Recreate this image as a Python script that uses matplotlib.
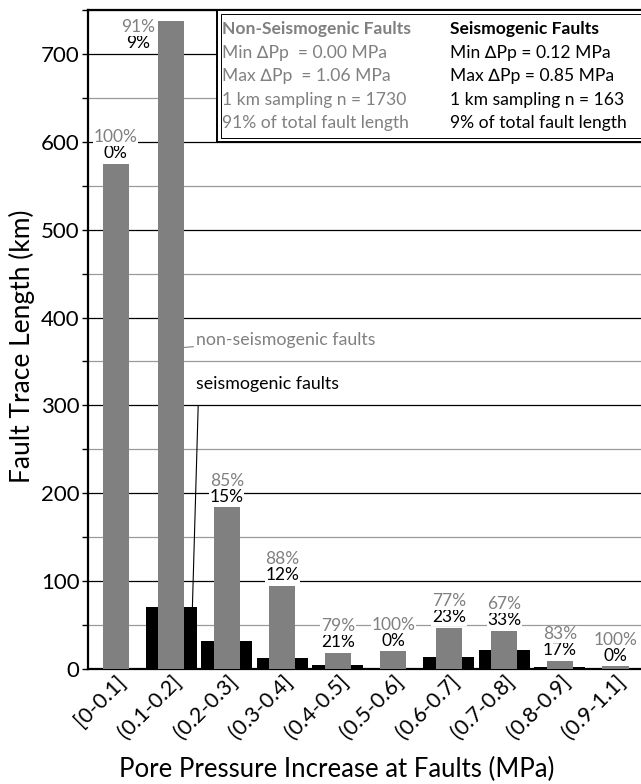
import matplotlib.pyplot as plt
from matplotlib.patches import Rectangle
from matplotlib.ticker import MultipleLocator
import numpy as np

plt.rcParams['font.family'] = ['Lato', 'DejaVu Sans']

bins = ['[0-0.1]', '(0.1-0.2]', '(0.2-0.3]', '(0.3-0.4]', '(0.4-0.5]',
        '(0.5-0.6]', '(0.6-0.7]', '(0.7-0.8]', '(0.8-0.9]', '(0.9-1.1]']
non_seis = [575, 737, 184, 95, 18, 20, 47, 43, 9, 3]  # km
seis = [0, 70, 32, 13, 5, 0, 14, 22, 2, 0]  # km
pct_non = ['100%', '91%', '85%', '88%', '79%', '100%', '77%', '67%', '83%', '100%']
pct_seis = ['0%', '9%', '15%', '12%', '21%', '0%', '23%', '33%', '17%', '0%']

table_non = ['Non-Seismogenic Faults', 'Min \u2206Pp  = 0.00 MPa', 'Max \u2206Pp  = 1.06 MPa',
             '1 km sampling n = 1730', '91% of total fault length']
table_seis = ['Seismogenic Faults', 'Min \u2206Pp = 0.12 MPa', 'Max \u2206Pp = 0.85 MPa',
              '1 km sampling n = 163', '9% of total fault length']

GREY = '#808080'

fig = plt.figure(figsize=(6.41, 7.84), dpi=100)
ax = fig.add_axes([88 / 641, 115 / 784, 553 / 641, 659 / 784])

x = np.arange(len(bins))
ax.bar(x, seis, width=0.92, color='black', zorder=2)
ax.bar(x, non_seis, width=0.47, color=GREY, zorder=3)

ax.set_xlim(-0.5, 9.46)
ax.set_ylim(0, 750)
ax.yaxis.set_major_locator(MultipleLocator(100))
ax.yaxis.set_minor_locator(MultipleLocator(50))
ax.grid(which='major', axis='y', color='black', lw=0.9, zorder=0)
ax.grid(which='minor', axis='y', color='#9a9a9a', lw=0.9, zorder=0)
ax.set_axisbelow(True)

for side in ['left', 'bottom', 'top']:
    ax.spines[side].set_linewidth(1.6)
ax.spines['right'].set_visible(False)

ax.tick_params(axis='y', which='both', direction='out', length=4, width=1, labelsize=16, pad=2)
ax.tick_params(axis='x', length=0, pad=2)
ax.set_xticks(x)
ax.set_xticklabels(bins, rotation=45, ha='right', va='top', rotation_mode='anchor', fontsize=15.5)
ax.set_ylabel('Fault Trace Length (km)', fontsize=19)
ax.yaxis.set_label_coords(-53 / 553, 0.49)
ax.set_xlabel('Pore Pressure Increase at Faults (MPa)', fontsize=18.5)
ax.xaxis.set_label_coords((337 - 88) / 553, -88 / 659)

# percentage labels above each group
box = dict(facecolor='white', edgecolor='none', pad=0.5)
for i in range(len(bins)):
    xi, top = i, non_seis[i]
    if i == 1:
        xi, top = 0.4, 700
    ax.annotate(pct_seis[i], (xi, top), xytext=(0, 2), textcoords='offset points',
                ha='center', va='bottom', fontsize=12.5, color='black', bbox=box, zorder=5)
    ax.annotate(pct_non[i], (xi, top), xytext=(0, 13.5), textcoords='offset points',
                ha='center', va='bottom', fontsize=12.5, color=GREY, bbox=box, zorder=5)

# callouts
ax.annotate('non-seismogenic faults', xy=(1.235, 366), xytext=(1.45, 375),
            fontsize=12.8, color=GREY, va='center', ha='left',
            arrowprops=dict(arrowstyle='-', color=GREY, lw=0.8, shrinkA=0, shrinkB=0))
ax.annotate('seismogenic faults', xy=(1.38, 70), xytext=(1.44, 324),
            fontsize=12.8, color='black', va='center', ha='left',
            arrowprops=dict(arrowstyle='-', color='black', lw=0.8, shrinkA=8, shrinkB=0,
                            relpos=(0.02, 0.0)))

# summary table box
bx0 = (217 - 88) / 553
ax.add_patch(Rectangle((bx0, 0.80), 1.2, 0.20, transform=ax.transAxes,
                       facecolor='white', edgecolor='black', lw=1.4, zorder=6, clip_on=False))
ax.add_patch(Rectangle((bx0 + 0.007, 0.806), 1.2, 0.188, transform=ax.transAxes,
                       facecolor='none', edgecolor='black', lw=0.7, zorder=6, clip_on=False))
for r in range(len(table_non)):
    yy = 0.971 - r * 0.0357
    w = 'bold' if r == 0 else 'normal'
    ax.text(bx0 + 0.009, yy, table_non[r], transform=ax.transAxes, fontsize=12.6, color=GREY,
            fontweight=w, va='center', ha='left', zorder=7)
    ax.text((450 - 88) / 553, yy, table_seis[r], transform=ax.transAxes, fontsize=12.6,
            color='black', fontweight=w, va='center', ha='left', zorder=7)

fig.savefig('out.png', dpi=100)
